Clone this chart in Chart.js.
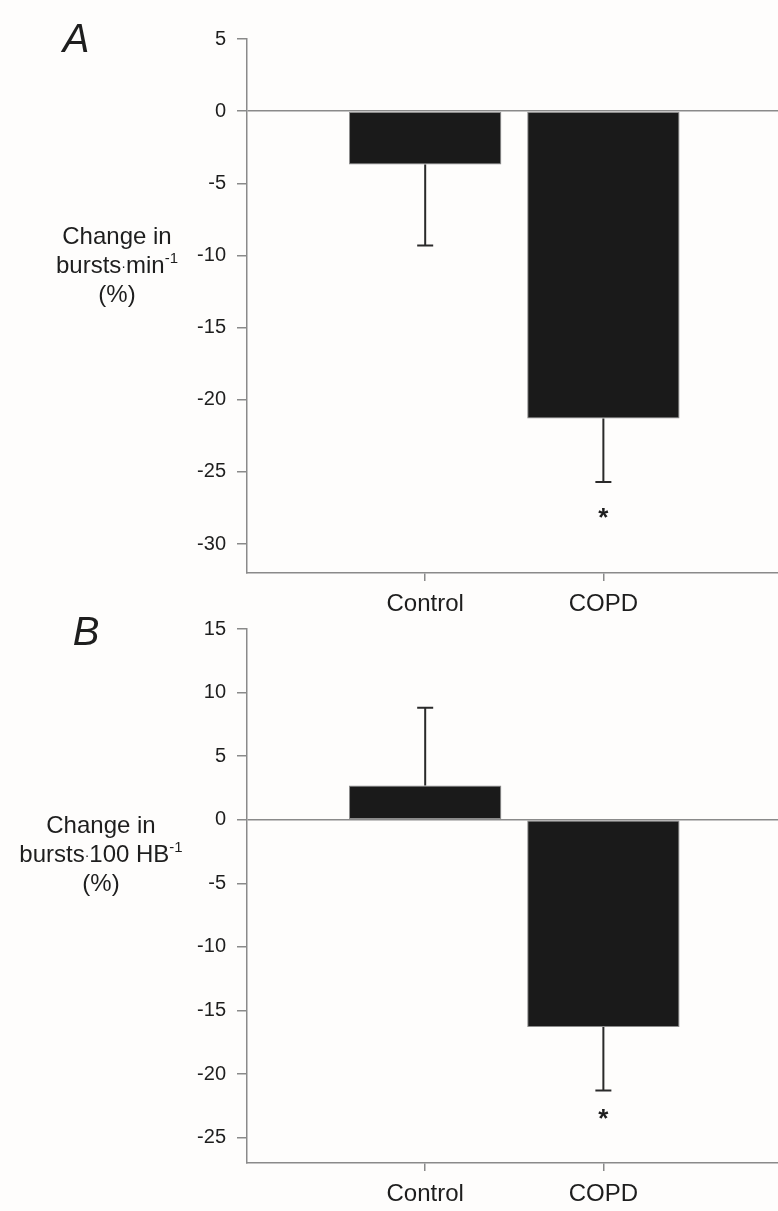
<!DOCTYPE html>
<html>
<head>
<meta charset="utf-8">
<script src="https://cdn.jsdelivr.net/npm/chart.js@4.4.1/dist/chart.umd.min.js"></script>
<style>
  html, body { margin:0; padding:0; background:#fefdfc; }
  #wrap { position:relative; width:778px; height:1211px; overflow:hidden; }
  canvas { position:absolute; left:0; }
  #chartA { top:0; }
  #chartB { top:590px; }
</style>
</head>
<body>
<div id="wrap">
  <canvas id="chartA" width="778" height="625"></canvas>
  <canvas id="chartB" width="778" height="621"></canvas>
</div>
<script>
// ===== data =====
const categories = ['Control', 'COPD'];

// A: change in bursts·min-1 (%)
const meanA   = [-3.7, -21.3];
const errEndA = [-9.3, -25.7];   // end of the (one-sided) error bar
const starA   = [null, -27.7];   // where the * sits
const ticksA  = [5, 0, -5, -10, -15, -20, -25, -30];
const rangeA  = [-32, 5];

// B: change in bursts·100 HB-1 (%)
const meanB   = [2.7, -16.3];
const errEndB = [8.8, -21.3];
const starB   = [null, -23.0];
const ticksB  = [15, 10, 5, 0, -5, -10, -15, -20, -25];
const rangeB  = [-27, 15];

// ===== styles =====
const FONT = '"Liberation Sans", Arial, Helvetica, sans-serif';
const AXIS_GRAY = '#8a8a8a';
const INK = '#1e1e1e';

// ===== helpers =====
// one line of the y title; segments may be superscript or a small dot
function drawTextLine(ctx, segs, cx, y) {
  const fontOf = s => s.sup ? `15px ${FONT}` : s.dot ? `14px ${FONT}` : `24px ${FONT}`;
  let w = 0;
  segs.forEach(s => { ctx.font = fontOf(s); w += ctx.measureText(s.t).width; });
  let x = cx - w / 2;
  ctx.textAlign = 'left';
  ctx.textBaseline = 'alphabetic';
  segs.forEach(s => {
    ctx.font = fontOf(s);
    ctx.fillText(s.t, x, s.sup ? y - 10 : (s.dot ? y - 2 : y));
    x += ctx.measureText(s.t).width;
  });
}

// error bars, asterisks, panel letter, y title
const panelPlugin = {
  id: 'panel',
  afterDatasetsDraw(chart, args, opts) {
    const ctx = chart.ctx;
    const ys = chart.scales.y;
    const ds = chart.data.datasets[0];
    const meta = chart.getDatasetMeta(0);
    ctx.save();
    meta.data.forEach((bar, i) => {
      const x = bar.x;
      const y0 = ys.getPixelForValue(ds.data[i].y);
      const y1 = ys.getPixelForValue(ds.errEnd[i]);
      ctx.strokeStyle = '#2a2a2a';
      ctx.lineWidth = 2;
      ctx.beginPath();
      ctx.moveTo(x, y0); ctx.lineTo(x, y1);
      ctx.moveTo(x - 8, y1); ctx.lineTo(x + 8, y1);
      ctx.stroke();
      if (ds.star[i] != null) {
        ctx.fillStyle = INK;
        ctx.font = `bold 26px ${FONT}`;
        ctx.textAlign = 'center';
        ctx.textBaseline = 'alphabetic';
        ctx.fillText('*', x, ys.getPixelForValue(ds.star[i]) + 15);
      }
    });
    ctx.restore();
  },
  afterDraw(chart, args, opts) {
    const ctx = chart.ctx;
    ctx.save();
    ctx.fillStyle = INK;
    ctx.font = `italic 40px ${FONT}`;
    ctx.textAlign = 'center';
    ctx.textBaseline = 'alphabetic';
    ctx.fillText(opts.letter, opts.letterX, opts.letterY);
    opts.title.forEach((segs, k) => drawTextLine(ctx, segs, opts.titleX, opts.titleY + k * 29));
    ctx.restore();
  }
};

function makeChart(id, mean, errEnd, star, yTicks, yRange, xAxisH, panel) {
  const ctx = document.getElementById(id);
  return new Chart(ctx, {
    type: 'bar',
    data: {
      datasets: [{
        data: mean.map((v, i) => ({ x: i + 1, y: v })),
        errEnd, star,
        backgroundColor: '#1a1a1a',
        borderColor: '#8c8c8c',
        borderWidth: 1,
        borderSkipped: false,
        barPercentage: 0.855,
        categoryPercentage: 1
      }]
    },
    options: {
      responsive: false,
      animation: false,
      devicePixelRatio: 1,
      layout: { padding: { top: 39, left: 0, right: 0, bottom: 0 } },
      plugins: {
        legend: { display: false },
        tooltip: { enabled: false },
        panel
      },
      scales: {
        x: {
          type: 'linear',
          min: 0, max: 2.98,
          offset: false,
          afterBuildTicks: s => { s.ticks = categories.map((c, i) => ({ value: i + 1 })); },
          afterFit: s => { s.height = xAxisH; },
          ticks: {
            callback: v => categories[v - 1] || '',
            color: INK,
            font: { family: FONT, size: 24 },
            padding: 9,
            maxRotation: 0
          },
          grid: {
            offset: false,
            drawOnChartArea: false,
            drawTicks: true,
            tickLength: 8,
            tickColor: AXIS_GRAY,
            lineWidth: 1.5
          },
          border: { display: true, color: AXIS_GRAY, width: 1.5 }
        },
        y: {
          min: yRange[0], max: yRange[1],
          afterBuildTicks: s => { s.ticks = yTicks.map(v => ({ value: v })); },
          afterFit: s => { s.width = 247; },
          ticks: {
            color: INK,
            font: { family: FONT, size: 20 },
            padding: 11
          },
          grid: {
            drawOnChartArea: true,
            drawTicks: true,
            tickLength: 10,
            color: c => (c.tick && c.tick.value === 0) ? AXIS_GRAY : 'rgba(0,0,0,0)',
            tickColor: AXIS_GRAY,
            lineWidth: 1.5
          },
          border: { display: true, color: AXIS_GRAY, width: 1.5 }
        }
      }
    },
    plugins: [panelPlugin]
  });
}

makeChart('chartA', meanA, errEndA, starA, ticksA, rangeA, 52, {
  letter: 'A', letterX: 76, letterY: 52,
  titleX: 117, titleY: 244,
  title: [
    [{ t: 'Change in' }],
    [{ t: 'bursts' }, { t: '·', dot: true }, { t: 'min' }, { t: '-1', sup: true }],
    [{ t: '(%)' }]
  ]
});

makeChart('chartB', meanB, errEndB, starB, ticksB, rangeB, 48, {
  letter: 'B', letterX: 86, letterY: 55,
  titleX: 101, titleY: 243,
  title: [
    [{ t: 'Change in' }],
    [{ t: 'bursts' }, { t: '·', dot: true }, { t: '100 HB' }, { t: '-1', sup: true }],
    [{ t: '(%)' }]
  ]
});
</script>
</body>
</html>
